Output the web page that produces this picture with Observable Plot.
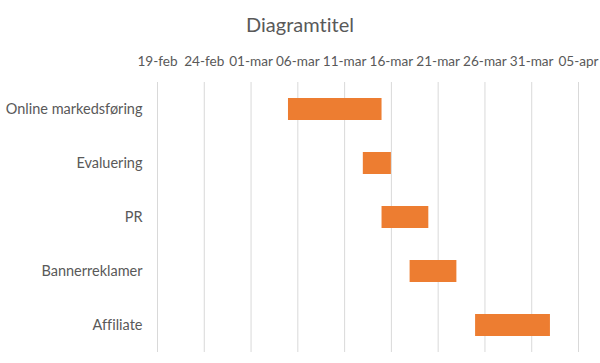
<!DOCTYPE html>
<html>
<head>
<meta charset="utf-8">
<script src="https://cdn.jsdelivr.net/npm/d3@7"></script>
<script src="https://cdn.jsdelivr.net/npm/@observablehq/plot@0.6"></script>
<style>
  html, body { margin: 0; padding: 0; background: #fff; }
  #wrap { width: 600px; height: 363px; overflow: hidden; font-family: Lato, "Open Sans", sans-serif; font-variant-ligatures: none; }
  #title { height: 45px; width: 600px; text-align: center; font-size: 20px; color: #595959; line-height: 45px; box-sizing: border-box; padding-top: 2px; font-variant-ligatures: none; }
  svg text { font-variant-ligatures: none; }
</style>
</head>
<body>
<div id="wrap">
  <div id="title">Diagramtitel</div>
  <div id="chart"></div>
</div>
<script>
const tasks = ["Online markedsføring", "Evaluering", "PR", "Bannerreklamer", "Affiliate"];
const startDates = ["2021-03-05", "2021-03-13", "2021-03-15", "2021-03-18", "2021-03-25"];
const durationDays = [10, 3, 5, 5, 8];
const tickDates = ["2021-02-19", "2021-02-24", "2021-03-01", "2021-03-06", "2021-03-11", "2021-03-16", "2021-03-21", "2021-03-26", "2021-03-31", "2021-04-05"];
const tickLabels = ["19-feb", "24-feb", "01-mar", "06-mar", "11-mar", "16-mar", "21-mar", "26-mar", "31-mar", "05-apr"];

const parse = d3.utcParse("%Y-%m-%d");
const rows = tasks.map((t, i) => {
  const s = parse(startDates[i]);
  return { task: t, start: s, end: d3.utcDay.offset(s, durationDays[i]) };
});
const ticks = tickDates.map(parse);
const labelFor = new Map(ticks.map((d, i) => [+d, tickLabels[i]]));

const chart = Plot.plot({
  width: 600,
  height: 318,
  marginTop: 37,
  marginBottom: 11,
  marginLeft: 157,
  marginRight: 22,
  style: { color: "#595959", fontFamily: "Lato, 'Open Sans', sans-serif", background: "#fff" },
  x: { type: "utc", domain: [ticks[0], ticks[ticks.length - 1]], label: null },
  y: { domain: tasks, padding: 0, label: null },
  marks: [
    Plot.ruleX(ticks, { stroke: "#d9d9d9", strokeWidth: 1 }),
    Plot.barX(rows, { x1: "start", x2: "end", y: "task", fill: "#ED7D31", insetTop: 16, insetBottom: 16 }),
    Plot.axisX({ anchor: "top", ticks: ticks, tickSize: 0, tickPadding: 17, fontSize: 13.6, tickFormat: d => labelFor.get(+d), label: null }),
    Plot.axisY({ anchor: "left", tickSize: 0, tickPadding: 15, fontSize: 14.5, label: null })
  ]
});
document.getElementById("chart").appendChild(chart);
</script>
</body>
</html>
